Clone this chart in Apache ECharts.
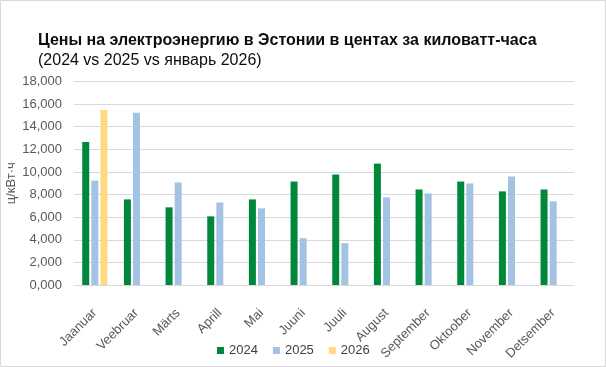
<!DOCTYPE html>
<html>
<head>
<meta charset="utf-8">
<script src="https://cdn.jsdelivr.net/npm/echarts@6/dist/echarts.min.js"></script>
<style>
html,body{margin:0;padding:0;background:#fff;}
#c{width:606px;height:367px;}
</style>
</head>
<body>
<div id="c"></div>
<script>
const categories = ['Jaanuar','Veebruar','Märts','Aprill','Mai','Juuni','Juuli','August','September','Oktoober','November','Detsember'];
const values2024 = [12.65, 7.57, 6.87, 6.07, 7.57, 9.15, 9.77, 10.74, 8.45, 9.15, 8.28, 8.45];
const values2025 = [9.24, 15.23, 9.07, 7.30, 6.78, 4.14, 3.70, 7.75, 8.10, 8.98, 9.60, 7.40];
const values2026 = [15.47, null, null, null, null, null, null, null, null, null, null, null];
const seriesNames = ['2024', '2025', '2026'];
const titleText = 'Цены на электроэнергию в Эстонии в центах за киловатт-часа';
const subtitleText = '(2024 vs 2025 vs январь 2026)';
const yAxisName = 'ц/кВт·ч';

const FONT = '"Liberation Sans", Arial, sans-serif';
const colors = ['#00883A', '#A2C3E3', '#FFDA80'];
const chart = echarts.init(document.getElementById('c'), null, {renderer: 'canvas'});
const mk = (name, data, color) => ({
  name, type: 'bar', data, barWidth: 7, barGap: '30%',
  itemStyle: {color}, emphasis: {disabled: true}
});
chart.setOption({
  animation: false,
  textStyle: {fontFamily: FONT},
  title: [
    {text: titleText, left: 33, top: 28, textStyle: {fontFamily: FONT, fontSize: 16, fontWeight: 'bold', color: '#0D0D0D'}},
    {text: subtitleText, left: 33, top: 48, textStyle: {fontFamily: FONT, fontSize: 16, fontWeight: 'normal', color: '#0D0D0D'}}
  ],
  graphic: [{type: 'rect', shape: {x: 0.5, y: 0.5, width: 605, height: 366}, style: {fill: 'none', stroke: '#D9D9D9', lineWidth: 1}, silent: true}],
  legend: {
    data: seriesNames, left: 212, top: 339, itemWidth: 7, itemHeight: 7, itemGap: 15,
    icon: 'rect', textStyle: {fontFamily: FONT, fontSize: 13, color: '#404040'}
  },
  grid: {left: 74, right: 32, top: 81.5, bottom: 82, containLabel: false, outerBoundsMode: 'none'},
  xAxis: {
    type: 'category', data: categories,
    axisLine: {lineStyle: {color: '#D9D9D9', width: 1}},
    axisTick: {show: false},
    axisLabel: {rotate: 45, interval: 0, margin: 26, fontFamily: FONT, fontSize: 13, color: '#595959'}
  },
  yAxis: {
    type: 'value', min: 0, max: 18, interval: 2,
    name: yAxisName, nameLocation: 'middle', nameGap: 56, nameRotate: 90, nameMoveOverlap: false,
    nameTextStyle: {fontFamily: FONT, fontSize: 13, color: '#595959'},
    axisLine: {show: false}, axisTick: {show: false},
    splitLine: {lineStyle: {color: '#D9D9D9', width: 1}},
    axisLabel: {margin: 12, fontFamily: FONT, fontSize: 13, color: '#595959',
      formatter: v => v.toFixed(3).replace('.', ',')}
  },
  series: [
    mk(seriesNames[0], values2024, colors[0]),
    mk(seriesNames[1], values2025, colors[1]),
    mk(seriesNames[2], values2026, colors[2])
  ]
});
</script>
</body>
</html>
